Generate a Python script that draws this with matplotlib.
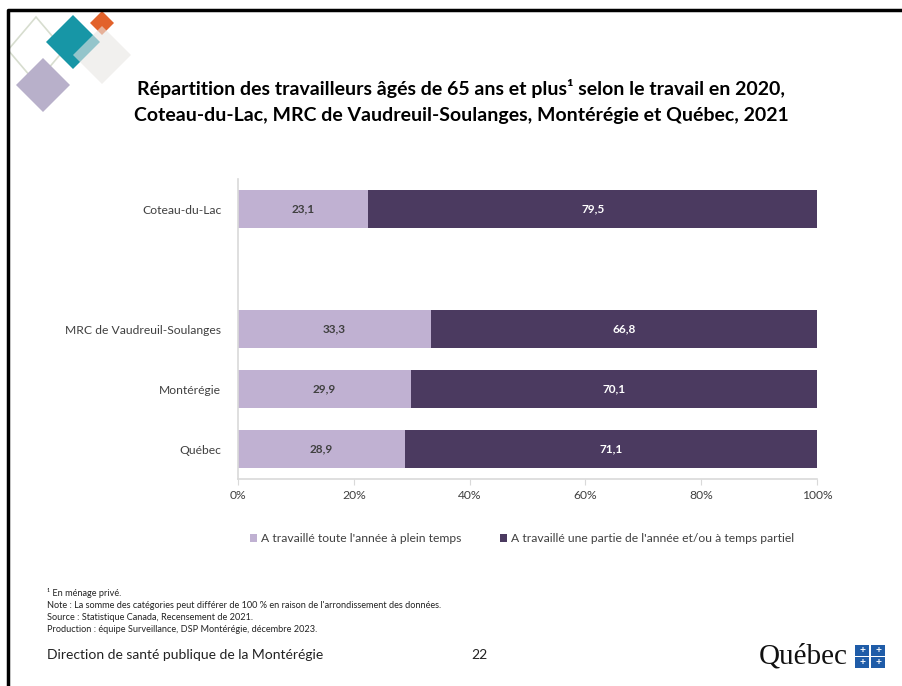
import matplotlib.pyplot as plt
import numpy as np
from matplotlib.patches import Polygon, Rectangle

plt.rcParams['font.family'] = ['Lato', 'DejaVu Sans']

# donnees
regions = ['Coteau-du-Lac', 'MRC de Vaudreuil-Soulanges', 'Montérégie', 'Québec']
plein_temps = [23.1, 33.3, 29.9, 28.9]
temps_partiel = [79.5, 66.8, 70.1, 71.1]
series = ["A travaillé toute l'année à plein temps",
          "A travaillé une partie de l'année et/ou à temps partiel"]
ticks = [0, 20, 40, 60, 80, 100]

c_clair = '#C0B1D2'
c_fonce = '#4B3A60'
gris = '#404040'

W, H = 902, 686
fig = plt.figure(figsize=(W / 100, H / 100), dpi=100)

# fond de diapo (coordonnees en pixels)
bg = fig.add_axes([0, 0, 1, 1])
bg.set_xlim(0, W)
bg.set_ylim(H, 0)
bg.axis('off')
bg.plot([8, 8, W], [H, 9.5, 9.5], color='black', linewidth=2.5, solid_capstyle='butt')


def losange(cx, cy, rx, ry, **kw):
    pts = [(cx, cy - ry), (cx + rx, cy), (cx, cy + ry), (cx - rx, cy)]
    bg.add_patch(Polygon(pts, closed=True, **kw))


losange(36, 50, 28, 33, facecolor='none', edgecolor='#D7DDCF', linewidth=1.2)
losange(43, 85, 27, 27, facecolor='#B8B0CA', edgecolor='none')
losange(73, 42, 27, 27, facecolor='#1796A6', edgecolor='none')
losange(102, 23, 12, 12, facecolor='#E2622B', edgecolor='none')
losange(102, 55, 29, 29, facecolor='#E9E6E4', edgecolor='none', alpha=0.6)

# titre
bg.text(461, 88, "Répartition des travailleurs âgés de 65 ans et plus¹ selon le travail en 2020,",
        ha='center', va='center', fontsize=14, fontweight='bold', color='black')
bg.text(461, 115, "Coteau-du-Lac, MRC de Vaudreuil-Soulanges, Montérégie et Québec, 2021",
        ha='center', va='center', fontsize=14, fontweight='bold', color='black')

# notes
notes = ["¹ En ménage privé.",
         "Note : La somme des catégories peut différer de 100 % en raison de l'arrondissement des données.",
         "Source : Statistique Canada, Recensement de 2021.",
         "Production : équipe Surveillance, DSP Montérégie, décembre 2023."]
for i, n in enumerate(notes):
    bg.text(47, 593 + i * 12, n, ha='left', va='center', fontsize=6.6, color='#222222')

bg.text(47, 655, "Direction de santé publique de la Montérégie", ha='left', va='center',
        fontsize=10, color='#222222')
bg.text(479, 655, "22", ha='center', va='center', fontsize=10, color='#222222')

# logo Quebec
bg.text(803, 657, "Québec", ha='center', va='center', fontsize=21,
        family='Liberation Serif', color='#111111')
for dx in (0, 16):
    for dy in (0, 12):
        bg.add_patch(Rectangle((855 + dx, 645 + dy), 14, 10.5, facecolor='#1F5CA8', edgecolor='none'))
        bg.text(862 + dx, 650.5 + dy, '+', ha='center', va='center', fontsize=7.5,
                color='white', fontweight='bold')

# graphique
ax = fig.add_axes([238 / W, 1 - 479 / H, (817 - 238) / W, 300 / H])

tot = np.array(plein_temps) + np.array(temps_partiel)
p1 = np.array(plein_temps) / tot * 100
p2 = np.array(temps_partiel) / tot * 100
pos = np.array([0, 2, 3, 4])

ax.barh(pos, p1, height=0.62, color=c_clair, label=series[0])
ax.barh(pos, p2, left=p1, height=0.62, color=c_fonce, label=series[1])

for y, a, b, va, vb in zip(pos, p1, p2, plein_temps, temps_partiel):
    ax.text(a / 2, y, f"{va:.1f}".replace('.', ','), ha='center', va='center',
            fontsize=8.5, fontweight='bold', color='#404040')
    ax.text(a + b / 2, y, f"{vb:.1f}".replace('.', ','), ha='center', va='center',
            fontsize=8.5, fontweight='bold', color='white')

ax.set_xlim(0, 100)
ax.set_ylim(4.5, -0.5)
ax.set_yticks(pos)
ax.set_yticklabels(regions, fontsize=8.7, color='#404040')
ax.set_xticks(ticks)
ax.set_xticklabels([f"{t}%" for t in ticks], fontsize=8.7, color=gris)
ax.tick_params(axis='y', length=0, pad=12)
ax.tick_params(axis='x', length=4, color='#D9D9D9', pad=4)
for s in ['top', 'right']:
    ax.spines[s].set_visible(False)
for s in ['left', 'bottom']:
    ax.spines[s].set_color('#D9D9D9')
    ax.spines[s].set_linewidth(1.2)

ax.legend(loc='center', bbox_to_anchor=(0.49, -0.2), ncol=2, frameon=False,
          fontsize=8.7, handlelength=0.6, handleheight=0.6, handletextpad=0.3,
          columnspacing=3.2, labelcolor='#404040')

fig.savefig('out.png', dpi=100)
